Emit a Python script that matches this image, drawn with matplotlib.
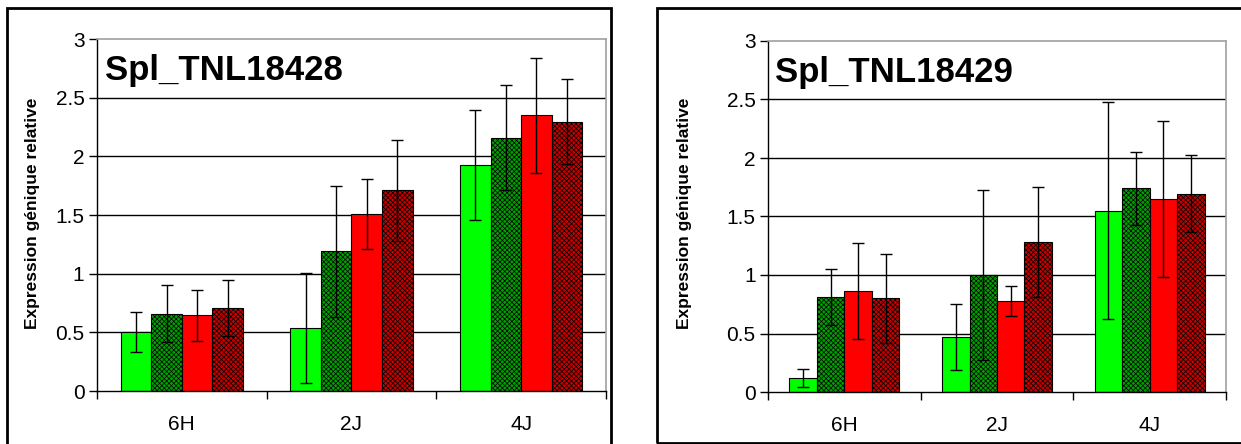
import matplotlib.pyplot as plt
from matplotlib.patches import Rectangle

plt.rcParams['font.family'] = ['Liberation Sans', 'DejaVu Sans']
plt.rcParams['hatch.linewidth'] = 0.5

categories = ['6H', '2J', '4J']

# left panel: Spl_TNL18428
left_vals = [
    [0.50, 0.535, 1.925],
    [0.66, 1.19, 2.16],
    [0.645, 1.51, 2.35],
    [0.71, 1.71, 2.295],
]
left_errs = [
    [0.17, 0.47, 0.47],
    [0.24, 0.56, 0.45],
    [0.22, 0.30, 0.49],
    [0.24, 0.43, 0.36],
]

# right panel: Spl_TNL18429
right_vals = [
    [0.12, 0.47, 1.55],
    [0.815, 1.0, 1.74],
    [0.86, 0.78, 1.65],
    [0.80, 1.28, 1.695],
]
right_errs = [
    [0.08, 0.285, 0.93],
    [0.24, 0.73, 0.31],
    [0.41, 0.13, 0.67],
    [0.38, 0.47, 0.33],
]

colors = ['#00ff00', '#00a000', '#ff0000', '#c80000']
hatches = [None, 'xxxxxxx', None, 'xxxxxxx']

fig = plt.figure(figsize=(12.41, 4.44), dpi=100)
W, H = 1241., 444.

def px_axes(x0, x1, y0, y1):
    return fig.add_axes([x0 / W, 1 - y1 / H, (x1 - x0) / W, (y1 - y0) / H])

def draw(ax, vals, errs, title, ylab_x):
    bw = 0.18
    for i in range(4):
        xs = [c + (i - 1.5) * bw for c in range(3)]
        ax.bar(xs, vals[i], bw, yerr=errs[i], color=colors[i], hatch=hatches[i],
               edgecolor='black', linewidth=0.8, zorder=2,
               error_kw=dict(ecolor='black', elinewidth=1, capsize=4, capthick=1, zorder=3))
    ax.set_xlim(-0.5, 2.5)
    ax.set_ylim(0, 3)
    ax.set_yticks([0, 0.5, 1, 1.5, 2, 2.5, 3])
    ax.set_yticklabels(['0', '0.5', '1', '1.5', '2', '2.5', '3'], fontsize=15)
    for v in [0.5, 1, 1.5, 2, 2.5]:
        ax.axhline(v, color='black', linewidth=1, zorder=1)
    ax.set_xticks([-0.5, 0.5, 1.5, 2.5])
    ax.set_xticklabels([])
    ax.set_xticks([0, 1, 2], minor=True)
    ax.set_xticklabels(categories, minor=True, fontsize=15)
    ax.tick_params(axis='x', which='major', length=6, direction='out', width=1)
    ax.tick_params(axis='x', which='minor', length=0, pad=17)
    ax.tick_params(axis='y', length=6, direction='out', width=1, pad=3)
    for s in ['top', 'right']:
        ax.spines[s].set_color('#a0a0a0')
        ax.spines[s].set_linewidth(1.2)
    for s in ['left', 'bottom']:
        ax.spines[s].set_color('black')
        ax.spines[s].set_linewidth(1)
    ax.text(0.016, 0.91, title, transform=ax.transAxes, fontsize=25,
            fontweight='bold', va='center', ha='left')
    fig.text(ylab_x / W, 1 - 213 / H, 'Expression génique relative', rotation=90,
             fontsize=12.5, fontweight='bold', ha='center', va='center')

ax1 = px_axes(97, 606, 39, 391)
draw(ax1, left_vals, left_errs, 'Spl_TNL18428', 33)
ax2 = px_axes(768, 1226, 41, 392)
draw(ax2, right_vals, right_errs, 'Spl_TNL18429', 684)

# outer chart boxes
fig.patches.append(Rectangle((7 / W, -0.05), (611 - 7) / W, 1.05 - 8 / H,
                             transform=fig.transFigure, fill=False,
                             edgecolor='black', linewidth=2))
fig.patches.append(Rectangle((657 / W, 1 - 443 / H), 0.5, (443 - 8) / H,
                             transform=fig.transFigure, fill=False,
                             edgecolor='black', linewidth=2))

fig.savefig('out.png', dpi=100)
